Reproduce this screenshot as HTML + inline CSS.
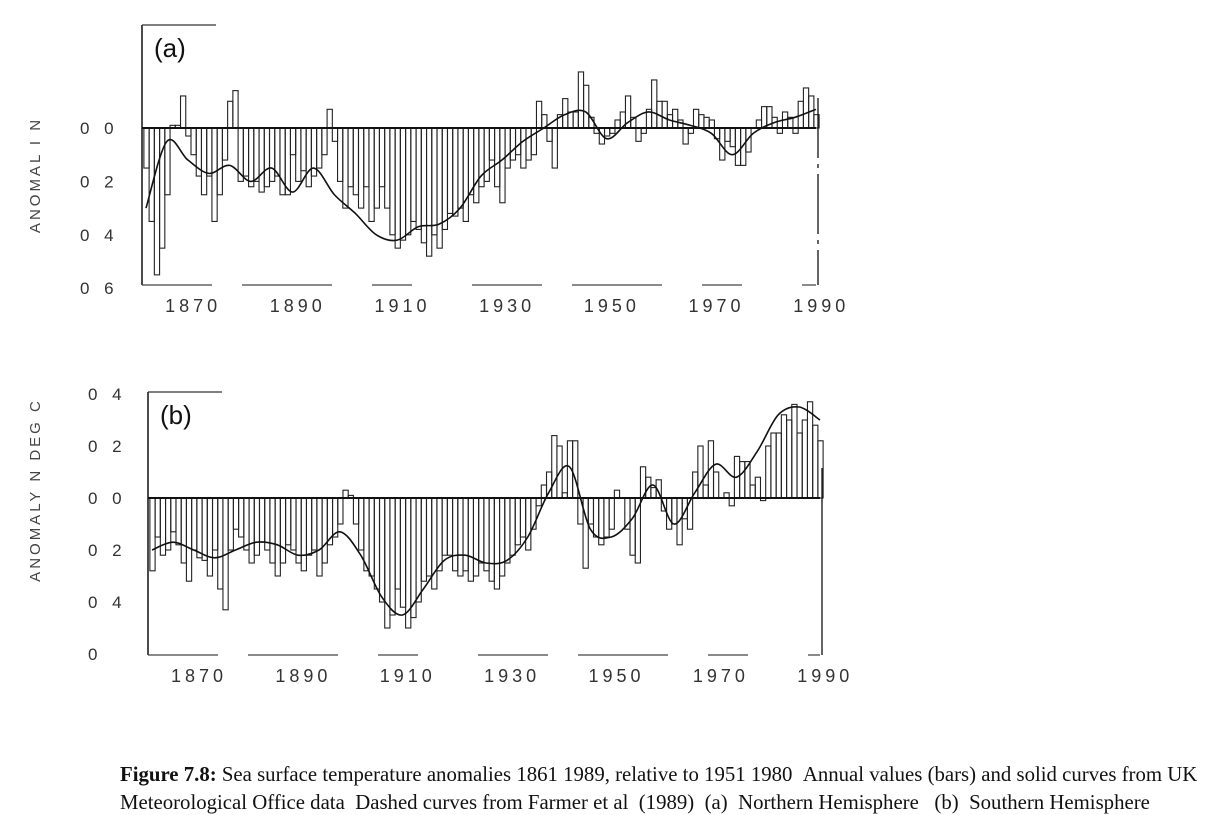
<!DOCTYPE html>
<html><head><meta charset="utf-8">
<style>
html,body{margin:0;padding:0;background:#fff;}
body{width:1231px;height:815px;overflow:hidden;position:relative;font-family:"Liberation Sans",sans-serif;}
.cap{position:absolute;left:120px;font-family:"Liberation Serif",serif;font-size:20.8px;color:#111;white-space:nowrap;}
</style></head>
<body>
<svg id="chart" width="1231" height="730" style="position:absolute;left:0;top:0" xmlns="http://www.w3.org/2000/svg"></svg>
<div class="cap" style="top:763px"><b>Figure 7.8:</b> Sea surface temperature anomalies 1861 1989, relative to 1951 1980 &nbsp;Annual values (bars) and solid curves from UK</div>
<div class="cap" style="top:791px">Meteorological Office data &nbsp;Dashed curves from Farmer et al &nbsp;(1989) &nbsp;(a) &nbsp;Northern Hemisphere &nbsp;&nbsp;(b) &nbsp;Southern Hemisphere</div>
<script>
const startYear = 1861;
const nhValues = [-0.15,-0.35,-0.55,-0.45,-0.25,0.01,0.01,0.12,-0.03,
-0.10,-0.18,-0.25,-0.18,-0.35,-0.25,-0.12,0.10,0.14,-0.20,
-0.18,-0.22,-0.20,-0.24,-0.22,-0.20,-0.18,-0.25,-0.25,-0.10,
-0.20,-0.16,-0.22,-0.18,-0.15,-0.10,0.07,-0.05,-0.20,-0.30,
-0.22,-0.25,-0.30,-0.22,-0.35,-0.30,-0.22,-0.30,-0.40,-0.45,
-0.42,-0.40,-0.35,-0.38,-0.43,-0.48,-0.40,-0.45,-0.38,-0.32,
-0.33,-0.30,-0.35,-0.25,-0.28,-0.22,-0.20,-0.12,-0.22,-0.28,
-0.15,-0.12,-0.10,-0.15,-0.12,-0.10,0.10,0.05,-0.05,-0.15,
0.05,0.11,0.06,0.06,0.21,0.16,0.04,-0.02,-0.06,-0.03,
-0.02,0.03,0.06,0.12,0.04,-0.05,-0.02,0.07,0.18,0.10,
0.10,0.05,0.07,0.03,-0.06,-0.02,0.07,0.05,0.04,0.03,
-0.04,-0.12,-0.05,-0.07,-0.14,-0.14,-0.09,0.00,0.03,0.08,
0.08,0.04,-0.02,0.06,0.04,-0.02,0.10,0.15,0.12,0.05];
const shValues = [-0.28,-0.15,-0.22,-0.20,-0.13,-0.18,-0.25,-0.32,-0.20,
-0.23,-0.24,-0.30,-0.20,-0.35,-0.43,-0.20,-0.12,-0.15,-0.20,
-0.25,-0.22,-0.17,-0.20,-0.25,-0.30,-0.25,-0.18,-0.20,-0.25,
-0.28,-0.22,-0.20,-0.30,-0.25,-0.18,-0.15,-0.10,0.03,0.01,
-0.10,-0.20,-0.28,-0.30,-0.35,-0.40,-0.50,-0.45,-0.35,-0.42,
-0.50,-0.46,-0.40,-0.32,-0.30,-0.35,-0.28,-0.22,-0.22,-0.28,
-0.30,-0.28,-0.32,-0.30,-0.25,-0.28,-0.32,-0.35,-0.30,-0.25,
-0.22,-0.18,-0.15,-0.20,-0.12,-0.03,0.05,0.10,0.24,0.20,
0.02,0.22,0.22,-0.10,-0.27,-0.10,-0.15,-0.18,-0.15,-0.12,
0.03,0.00,-0.12,-0.22,-0.25,0.12,0.08,0.04,0.07,-0.05,
-0.12,-0.10,-0.18,-0.08,-0.12,0.10,0.20,0.05,0.22,0.10,
0.00,0.02,-0.03,0.16,0.14,0.14,0.05,0.08,-0.01,0.20,
0.25,0.25,0.32,0.30,0.36,0.25,0.30,0.37,0.28,0.22];
const smoothYears = [1861,1865,1869,1873,1877,1881,1885,1889,1893,1897,1901,1905,1909,1913,1917,1921,1925,1929,1933,1937,1941,1945,1949,1953,1957,1961,1965,1969,1973,1977,1981,1985,1989];
const nhSmooth = [-0.30,-0.05,-0.12,-0.17,-0.14,-0.20,-0.15,-0.24,-0.15,-0.25,-0.32,-0.40,-0.42,-0.37,-0.36,-0.30,-0.18,-0.12,-0.05,0.00,0.05,0.06,-0.04,0.02,0.06,0.03,0.01,-0.02,-0.10,-0.02,0.02,0.04,0.07];
const shSmooth = [-0.20,-0.17,-0.20,-0.23,-0.20,-0.17,-0.18,-0.22,-0.20,-0.13,-0.22,-0.38,-0.45,-0.35,-0.24,-0.22,-0.25,-0.24,-0.15,0.02,0.12,-0.12,-0.15,-0.08,0.05,-0.10,0.02,0.13,0.08,0.18,0.32,0.35,0.30];
const xTicks = [1870,1890,1910,1930,1950,1970,1990];
const nhTickLabels = ["1870","1890","1910","1930","1950","1970","1990"];
const shTickLabels = ["1870","1890","1910","1930","1950","1970","1990"];
const nhYTicks = [0,-0.2,-0.4,-0.6];
const nhYLabels = ["0 0","0 2","0 4","0 6"];
const shYTicks = [0.4,0.2,0,-0.2,-0.4,-0.6];
const shYLabels = ["0 4","0 2","0 0","0 2","0 4","0"];

const NS="http://www.w3.org/2000/svg";
const svg=document.getElementById('chart');
function mk(tag,attrs,parent){const e=document.createElementNS(NS,tag);for(const k in attrs)e.setAttribute(k,attrs[k]);(parent||svg).appendChild(e);return e;}

function panel(cfg){
  const g=mk('g',{});
  
  
  const yrW=(cfg.x1-cfg.x0)/128;
  const xs=y=>cfg.x0+(y-startYear)*yrW;
  const ys=v=>cfg.zero-v*cfg.ppd;
  cfg.values.forEach((v,i)=>{
    const x=xs(startYear+i)-yrW/2+0.5;
    const r=mk('rect',{x:x,y:Math.min(ys(v),cfg.zero),width:yrW,height:Math.abs(ys(v)-cfg.zero),fill:'none',stroke:'#222','stroke-width':1.1},g);
    
    
  });
  const zl=mk('line',{x1:cfg.x0-4,x2:cfg.x1,y1:cfg.zero,y2:cfg.zero,stroke:'#111','stroke-width':2},g);
  
  
  const pts=smoothYears.map((y,i)=>[xs(y),ys(cfg.smooth[i])]);
  let d='M'+pts[0][0]+','+pts[0][1];
  for(let i=0;i<pts.length-1;i++){
    const p0=pts[Math.max(0,i-1)],p1=pts[i],p2=pts[i+1],p3=pts[Math.min(pts.length-1,i+2)];
    d+=` C${p1[0]+(p2[0]-p0[0])/6},${p1[1]+(p2[1]-p0[1])/6} ${p2[0]-(p3[0]-p1[0])/6},${p2[1]-(p3[1]-p1[1])/6} ${p2[0]},${p2[1]}`;
  }
  const c=mk('path',{d:d,fill:'none',stroke:'#111','stroke-width':1.6},g);
  
  
  const la=mk('line',{x1:cfg.x0-4,x2:cfg.x0-4,y1:cfg.top,y2:cfg.bottom,stroke:'#111','stroke-width':1.5},g);
  
  
  const ra=mk('line',{x1:cfg.x1+2,x2:cfg.x1+2,y1:cfg.zero-30,y2:cfg.bottom,stroke:'#111','stroke-width':1.3,'stroke-dasharray':cfg.rdash},g);
  
  
  const ba=mk('line',{x1:cfg.x0-4,x2:cfg.x1,y1:cfg.bottom,y2:cfg.bottom,stroke:'#444','stroke-width':1.3,'stroke-dasharray':'70 30 90 40 40 60'},g);
  
  
  const ta=mk('line',{x1:cfg.x0-4,x2:cfg.x0+70,y1:cfg.top,y2:cfg.top,stroke:'#333','stroke-width':1.3},g);
  
  
  const pl=mk('text',{x:cfg.x0+8,y:cfg.top+32,'font-size':26,'font-family':'Liberation Sans, sans-serif',fill:'#111'},g);
  pl.textContent=cfg.label;
  
  
  xTicks.forEach((t,i)=>{
    const tx=mk('text',{x:xs(t),y:cfg.bottom+27,'font-size':18,'text-anchor':'middle','letter-spacing':'4','font-family':'Liberation Sans, sans-serif',fill:'#333','font-weight':'300'},g);
    tx.textContent=cfg.xLabels[i];
    
    
  });
  cfg.yTicks.forEach((t,i)=>{
    const ty=mk('text',{x:cfg.ylx,y:ys(t)+6,'font-size':17,'letter-spacing':'5','font-family':'Liberation Sans, sans-serif',fill:'#333'},g);
    ty.textContent=cfg.yLabels[i];
    
    
  });
  const yt=mk('text',{x:0,y:0,'font-size':15,'letter-spacing':'3','font-family':'Liberation Sans, sans-serif',fill:'#444',transform:`translate(40,${cfg.ytY}) rotate(-90)`,'text-anchor':'middle'},g);
  yt.textContent=cfg.yTitle;
  
  
}
panel({name:'panel-a-northern-hemisphere',values:nhValues,smooth:nhSmooth,x0:146,x1:816,zero:128,ppd:267,top:25,bottom:285,label:'(a)',xLabels:nhTickLabels,yTicks:nhYTicks,yLabels:nhYLabels,ylx:80,yTitle:'ANOMAL  I N',ytY:175,rdash:'60 6 4 6'});
panel({name:'panel-b-southern-hemisphere',values:shValues,smooth:shSmooth,x0:152,x1:820,zero:498,ppd:260,top:392,bottom:655,label:'(b)',xLabels:shTickLabels,yTicks:shYTicks,yLabels:shYLabels,ylx:88,yTitle:'ANOMALY  N DEG C',ytY:490,rdash:'none'});
</script>
</body></html>
